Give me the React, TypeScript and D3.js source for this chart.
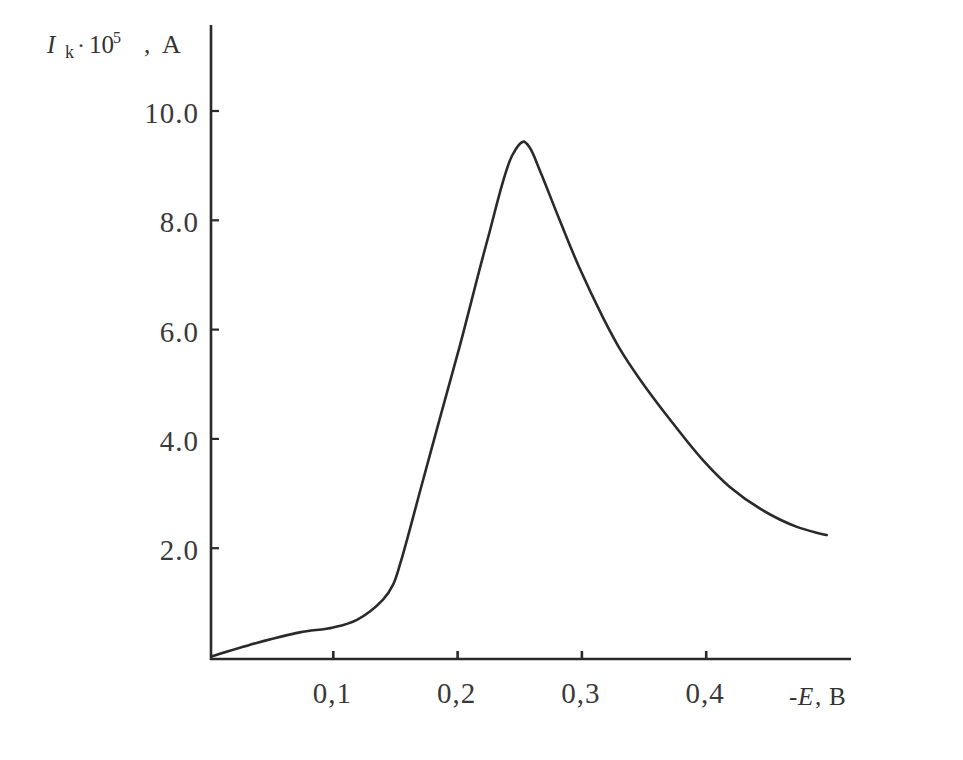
import React from "react";
import * as d3 from "d3";

const potential = [0.002, 0.039, 0.073, 0.100, 0.119, 0.140, 0.148, 0.154, 0.170, 0.186, 0.202, 0.224, 0.244, 0.253, 0.258, 0.266, 0.282, 0.298, 0.317, 0.331, 0.347, 0.371, 0.397, 0.419, 0.445, 0.473, 0.497];
const current = [0.02, 0.27, 0.46, 0.55, 0.69, 1.06, 1.33, 1.73, 3.06, 4.40, 5.72, 7.64, 9.19, 9.44, 9.33, 8.92, 8.01, 7.13, 6.22, 5.63, 5.08, 4.35, 3.62, 3.12, 2.70, 2.39, 2.24];

const xTicks = [0.1, 0.2, 0.3, 0.4];
const xTickLabels = ["0,1", "0,2", "0,3", "0,4"];
const yTicks = [2, 4, 6, 8, 10];
const yTickLabels = ["2.0", "4.0", "6.0", "8.0", "10.0"];

const FONT = "'Liberation Serif', 'Times New Roman', serif";
const INK = "#2a2a2a";

export default function App() {
  const x = d3.scaleLinear().domain([0, 0.5]).range([209, 830.5]);
  const y = d3.scaleLinear().domain([0, 10]).range([657.5, 111]);

  const data = potential.map((e, i) => [e, current[i]] as [number, number]);
  const line = d3
    .line<[number, number]>()
    .x((d) => x(d[0]))
    .y((d) => y(d[1]))
    .curve(d3.curveCatmullRom.alpha(0.5));

  const axisX0 = 211;
  const axisY0 = 659;

  return (
    <svg
      width={963}
      height={760}
      style={{ position: "absolute", left: 0, top: 0, background: "#fff" }}
    >
      <rect width={963} height={760} fill="#fff" />
      {/* axes */}
      <line x1={axisX0} y1={25} x2={axisX0} y2={axisY0 + 1} stroke={INK} strokeWidth={2.6} />
      <line x1={axisX0 - 1} y1={axisY0} x2={851} y2={axisY0} stroke={INK} strokeWidth={2.6} />

      {/* y ticks */}
      {yTicks.map((t, i) => (
        <g key={"y" + t}>
          <line x1={axisX0} x2={axisX0 + 8} y1={y(t)} y2={y(t)} stroke={INK} strokeWidth={2.2} />
          <text
            x={199}
            y={y(t) + 12}
            textAnchor="end"
            fontFamily={FONT}
            fontSize={29}
            letterSpacing={1}
            fill="#3a3a3a"
          >
            {yTickLabels[i]}
          </text>
        </g>
      ))}

      {/* x ticks */}
      {xTicks.map((t, i) => (
        <g key={"x" + t}>
          <line x1={x(t)} x2={x(t)} y1={axisY0} y2={axisY0 - 8} stroke={INK} strokeWidth={2.6} />
          <text
            x={x(t) - 1}
            y={703}
            textAnchor="middle"
            fontFamily={FONT}
            fontSize={29}
            letterSpacing={1}
            fill="#3a3a3a"
          >
            {xTickLabels[i]}
          </text>
        </g>
      ))}

      {/* curve */}
      <path d={line(data) || ""} fill="none" stroke={INK} strokeWidth={2.6} strokeLinejoin="round" strokeLinecap="round" />

      {/* y axis title */}
      <g fontFamily={FONT} fill="#333">
        <text x={47} y={53} fontSize={25} fontStyle="italic">I</text>
        <text x={65} y={58} fontSize={18}>k</text>
        <text x={77} y={53} fontSize={24}>·</text>
        <text x={89} y={53} fontSize={25}>10</text>
        <text x={113} y={43} fontSize={16}>5</text>
        <text x={144} y={53} fontSize={25}>,</text>
        <text x={162} y={53} fontSize={26}>A</text>
      </g>

      {/* x axis title */}
      <g fontFamily={FONT} fill="#333">
        <text x={789} y={705} fontSize={25}>-</text>
        <text x={798} y={705} fontSize={25} fontStyle="italic">E</text>
        <text x={815} y={705} fontSize={25}>,</text>
        <text x={829} y={705} fontSize={25}>B</text>
      </g>
    </svg>
  );
}
